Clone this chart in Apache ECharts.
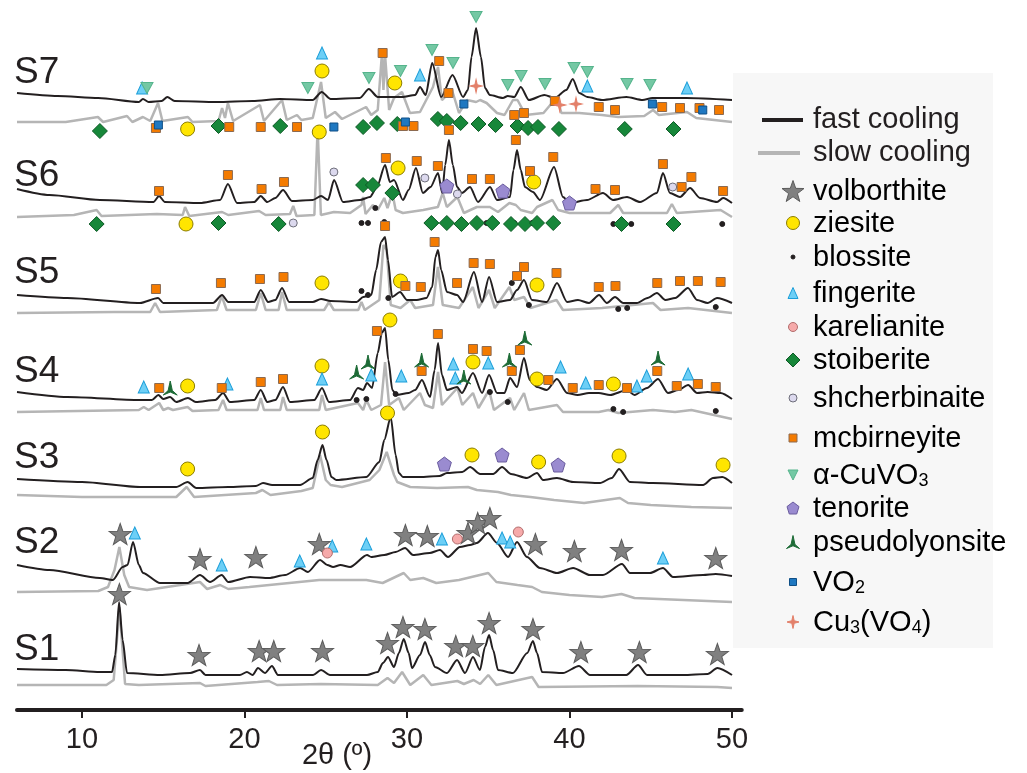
<!DOCTYPE html>
<html>
<head>
<meta charset="utf-8">
<script src="https://cdn.jsdelivr.net/npm/echarts@6/dist/echarts.min.js"></script>
<style>
html, body { margin: 0; padding: 0; background: #fff; }
#xrd { width: 1027px; height: 773px; }
</style>
</head>
<body>
<div id="xrd"></div>
<script>
/* XRD patterns, 2θ in degrees. The second value is the stacked position of
   the trace (0 = top of plot, grows downward). */

// S7
let S7_fast = [[6.0,93],[8.5,96],[11.0,98],[13.5,102],[13.75,99],[14.1,102],[14.9,101],[15.25,97],[15.7,101],[18.3,102],[20.5,101],[22.2,99],[24.2,100],[24.75,92],[25.3,99],[27.1,98],[27.65,89],[28.2,97],[29.7,97],[30.5,95],[30.8,87],[31.15,95],[31.55,63],[32.1,97],[32.8,75],[33.45,97],[33.75,90],[33.97,57],[34.25,28],[34.55,57],[34.8,88],[35.1,95],[35.9,98],[36.2,96],[36.6,97],[37.0,87],[37.5,100],[38.45,95],[39.1,98],[39.8,90],[40.2,79],[40.6,93],[41.1,97],[42.0,100],[43.5,97],[44.5,100],[45.1,98],[47.2,98],[50.0,100]];
let S7_slow = [[6.0,122],[9.0,122],[10.98,117],[11.3,122],[12.77,116],[13.1,122],[13.75,117],[14.2,121],[14.68,103],[14.95,121],[16.52,117],[16.8,122],[18.4,121],[18.62,108],[18.8,118],[18.98,103],[19.3,121],[20.95,105],[21.2,121],[22.31,100],[22.6,120],[23.23,115],[23.5,120],[24.2,118],[24.71,82],[25.0,118],[25.57,112],[26.0,119],[27.48,107],[27.8,115],[28.2,110],[28.46,53],[28.55,90],[28.65,55],[28.9,110],[29.2,98],[29.69,92],[30.18,113],[30.8,112],[31.6,87],[31.91,67],[32.15,100],[32.77,90],[33.2,113],[33.7,100],[34.25,102],[34.5,100],[34.9,103],[35.54,113],[36.0,115],[36.52,100],[36.8,100],[37.3,115],[38.4,113],[39.23,97],[39.5,113],[40.6,113],[42.0,115],[43.0,117],[44.6,116],[45.14,110],[45.5,115],[47.23,112],[47.8,118],[50.0,122]];

// S6
let S6_fast = [[6.0,189],[8.0,195],[11.1,200],[14.4,202],[14.74,196],[15.1,202],[17.26,203],[18.5,200],[18.98,184],[19.54,203],[20.6,202],[21.0,196],[21.4,202],[21.9,198],[22.37,190],[22.92,201],[24.2,200],[24.71,196],[25.14,200],[25.51,180],[26.06,202],[27.11,200],[27.72,197],[28.15,187],[28.65,165],[28.95,182],[29.2,180],[29.75,200],[30.1,190],[30.55,168],[30.98,193],[31.45,187],[31.91,173],[32.17,193],[32.35,165],[32.58,140],[32.82,165],[33.08,187],[33.38,193],[33.88,187],[34.37,202],[35.11,187],[35.54,200],[36.34,197],[36.55,170],[36.77,150],[37.0,170],[37.26,187],[37.75,192],[38.18,200],[39.05,167],[39.6,197],[40.03,203],[41.08,200],[42.06,193],[42.68,200],[43.54,197],[44.34,202],[45.38,193],[45.75,173],[46.18,193],[46.8,197],[47.42,188],[48.03,198],[49.08,202],[49.45,198],[50.0,203]];
let S6_slow = [[6.0,217],[9.5,215],[10.9,210],[11.2,216],[14.6,214],[16.2,215],[16.34,207],[16.6,216],[18.62,212],[19.0,215],[20.9,211],[21.3,215],[22.8,214],[23.0,206],[23.2,216],[24.3,215],[24.5,128],[24.7,215],[25.5,212],[26.5,213],[27.2,205],[27.3,197],[27.45,214],[27.9,205],[28.2,210],[28.6,198],[28.8,208],[29.1,193],[29.3,210],[29.75,213],[31.0,210],[31.9,207],[32.2,193],[32.45,207],[33.1,197],[33.5,213],[34.3,207],[35.1,207],[35.6,212],[36.3,203],[36.7,205],[37.0,210],[37.7,213],[38.0,207],[38.95,200],[39.3,210],[40.0,213],[42.5,213],[43.0,205],[43.3,213],[46.0,213],[46.3,204],[46.6,213],[49.3,210],[50.0,217]];

// S5
let S5_fast = [[6.0,295],[9.1,298],[13.57,303],[14.68,298],[15.0,303],[18.06,303],[18.62,295],[19.0,302],[20.6,302],[21.0,290],[21.45,302],[21.9,300],[22.31,288],[22.75,302],[24.2,302],[24.71,299],[25.3,301],[26.9,302],[27.3,297],[27.8,295],[28.1,270],[28.4,242],[28.65,237],[28.83,260],[29.08,297],[29.57,292],[30.0,300],[30.6,300],[31.2,298],[31.55,287],[31.75,257],[31.91,250],[32.1,270],[32.46,292],[33.08,295],[33.45,302],[34.12,272],[34.62,302],[35.05,277],[35.54,302],[36.34,300],[36.77,290],[37.2,280],[37.69,300],[38.6,302],[39.23,283],[39.85,302],[40.52,300],[41.2,303],[41.82,295],[42.3,303],[42.8,297],[43.3,303],[44.15,303],[44.8,298],[45.38,293],[45.9,300],[46.5,298],[47.29,288],[47.85,300],[48.5,303],[49.08,298],[50.0,303]];
let S5_slow = [[6.0,313],[12.0,312],[14.2,312],[14.5,303],[14.8,312],[18.3,310],[18.6,296],[18.9,310],[20.7,310],[21.0,293],[21.3,310],[22.1,310],[22.31,292],[22.6,310],[24.9,310],[25.2,302],[25.5,310],[27.0,310],[27.2,302],[27.4,310],[28.3,300],[28.55,245],[28.75,250],[29.0,305],[29.6,308],[30.2,300],[30.5,308],[31.6,305],[31.9,267],[32.2,305],[33.2,308],[34.05,287],[34.4,308],[35.05,290],[35.4,308],[36.3,287],[36.6,300],[37.2,297],[37.6,308],[39.2,300],[39.6,310],[42.0,308],[45.14,303],[45.6,310],[47.3,308],[50.0,313]];

// S4
let S4_fast = [[6.0,392],[9.1,397],[13.57,400],[14.3,400],[14.7,395],[15.0,399],[15.42,397],[15.8,402],[16.52,398],[17.0,402],[18.2,400],[18.68,393],[19.1,402],[20.6,400],[21.0,390],[21.4,402],[21.9,400],[22.37,387],[22.8,402],[24.3,400],[24.77,388],[25.2,402],[26.5,400],[26.98,388],[27.3,390],[27.54,383],[27.85,388],[28.2,353],[28.45,333],[28.65,328],[28.85,360],[29.1,390],[29.34,395],[30.1,393],[30.5,390],[30.92,380],[31.42,397],[31.7,370],[31.91,343],[32.15,375],[32.46,390],[33.08,387],[33.38,393],[34.06,373],[34.62,393],[35.05,375],[35.54,393],[36.0,393],[36.34,378],[36.77,387],[37.2,358],[37.55,380],[38.0,387],[38.6,390],[39.23,379],[39.85,393],[40.5,395],[41.2,393],[41.8,393],[42.5,395],[43.54,390],[44.0,395],[44.77,388],[45.45,379],[46.06,393],[46.7,390],[47.3,385],[47.85,393],[48.5,392],[49.3,393],[50.0,399]];
let S4_slow = [[6.0,412],[13.5,410],[13.8,407],[14.1,410],[14.75,403],[15.0,410],[15.3,408],[15.6,410],[16.5,407],[16.8,411],[18.4,410],[18.68,400],[18.9,410],[20.8,410],[21.0,398],[21.2,410],[22.2,410],[22.37,397],[22.6,410],[24.6,410],[24.77,395],[25.0,410],[26.98,403],[27.3,410],[27.5,400],[27.8,410],[28.4,405],[28.65,362],[28.9,405],[29.5,398],[29.8,410],[30.8,393],[31.1,405],[31.6,408],[31.91,372],[32.15,405],[33.1,388],[33.4,405],[34.06,393],[34.4,408],[35.05,390],[35.35,410],[36.34,398],[36.6,410],[37.2,393],[37.5,410],[39.23,405],[39.6,412],[41.8,412],[42.4,410],[43.0,413],[45.14,410],[46.5,412],[47.5,410],[50.0,419]];

// S3
let S3_fast = [[6.0,479],[10.0,482],[13.57,487],[15.8,487],[16.5,482],[17.03,488],[19.0,487],[20.7,486],[21.14,483],[21.7,485],[23.42,485],[24.2,478],[24.5,460],[24.8,445],[25.05,460],[25.35,477],[25.65,480],[27.5,477],[28.3,462],[28.6,440],[29.0,417],[29.3,455],[29.5,473],[29.75,477],[30.8,477],[32.0,476],[32.46,473],[33.4,472],[33.88,467],[34.5,474],[35.3,474],[35.85,467],[36.4,474],[37.38,478],[38.0,473],[38.37,480],[39.23,478],[40.22,482],[41.88,483],[42.6,478],[43.05,469],[43.72,482],[45.14,483],[48.22,485],[48.83,478],[49.4,477],[50.0,483]];
let S3_slow = [[6.0,495],[10.0,497],[15.8,497],[16.44,487],[16.9,497],[20.7,493],[21.1,490],[21.6,495],[23.5,491],[24.2,488],[24.65,455],[25.0,480],[25.3,485],[26.0,487],[27.7,480],[28.3,470],[28.75,452],[29.2,475],[29.4,482],[30.2,487],[31.85,488],[33.75,487],[34.3,490],[35.6,492],[36.4,495],[37.6,497],[39.05,500],[40.9,503],[43.1,498],[43.6,503],[45.0,505],[47.5,507],[50.0,508]];

// S2
let S2_fast = [[6.0,565],[8.0,570],[11.1,578],[11.9,580],[12.5,567],[12.8,565],[13.14,542],[13.5,565],[13.75,573],[14.8,583],[16.5,583],[17.26,575],[17.88,582],[18.6,575],[19.0,582],[20.34,577],[21.5,578],[22.5,575],[23.42,568],[23.9,572],[24.65,560],[25.1,565],[25.45,567],[25.9,565],[26.5,567],[27.54,555],[27.8,557],[28.6,555],[29.3,552],[29.88,548],[30.37,555],[31.4,553],[32.03,550],[32.52,557],[33.26,547],[33.88,545],[34.3,543],[34.98,533],[35.54,543],[36.22,557],[36.77,542],[37.38,557],[38.18,568],[39.23,573],[40.22,568],[41.26,575],[42.06,575],[43.23,564],[43.72,573],[44.95,573],[45.75,568],[46.37,577],[48.22,575],[49.0,574],[50.0,576]];
let S2_slow = [[6.0,592],[11.0,591],[11.6,587],[12.0,570],[12.3,547],[12.6,575],[12.9,587],[14.0,590],[17.26,582],[17.7,589],[18.5,585],[19.0,589],[20.3,587],[24.6,580],[27.5,580],[28.5,583],[29.8,573],[30.2,580],[31.0,578],[31.8,583],[33.2,580],[35.0,573],[35.5,582],[36.8,585],[37.7,587],[38.3,592],[40.0,595],[42.0,597],[43.2,594],[44.0,598],[50.0,602]];

// S1
let S1_fast = [[6.0,669],[9.0,670],[11.1,672],[11.85,672],[12.05,655],[12.28,602],[12.5,640],[12.77,673],[14.8,675],[16.65,673],[17.26,670],[17.6,675],[19.72,675],[20.15,672],[20.5,675],[20.83,668],[21.26,673],[21.69,666],[22.06,675],[24.22,675],[24.71,670],[25.26,675],[27.54,675],[28.2,672],[28.52,663],[28.83,657],[29.2,667],[29.5,653],[29.8,639],[30.1,653],[30.31,668],[30.8,655],[31.11,642],[31.4,655],[31.72,667],[32.46,673],[33.08,660],[33.57,673],[34.06,657],[34.49,670],[34.8,647],[35.05,635],[35.3,650],[35.6,670],[36.52,673],[37.4,653],[37.75,641],[38.0,653],[38.31,672],[39.6,673],[40.58,666],[41.26,675],[43.5,675],[44.22,665],[44.77,675],[47.0,675],[48.5,674],[49.1,668],[50.0,675]];
let S1_slow = [[6.0,685],[11.5,685],[11.95,680],[12.15,640],[12.3,607],[12.45,640],[12.65,684],[13.5,685],[17.26,683],[17.6,686],[20.8,682],[21.5,681],[22.0,685],[24.7,684],[28.2,685],[28.8,678],[29.2,683],[29.7,672],[30.2,685],[31.0,675],[31.5,685],[33.1,681],[33.5,684],[34.1,680],[34.5,684],[35.0,675],[35.5,685],[37.7,677],[38.1,687],[44.2,686],[49.1,687],[50.0,688]];

/* phase markers [2θ, position] */
let volborthite = [[12.35,534],[17.26,559],[20.7,557],[24.6,544],[29.9,535],[31.25,536],[33.75,533],[34.35,523],[35.1,518],[37.9,544],[40.3,551],[43.2,550],[49.0,558],
  [12.3,594],[17.2,655],[20.9,651],[21.8,651],[24.8,651],[28.8,643],[29.75,627],[31.1,629],[33.0,646],[34.05,646],[35.05,623],[37.75,629],[40.7,652],[44.3,652],[49.1,654]];
let ziesite = [[24.77,71],[29.25,83],[16.5,129],[24.6,132],[29.45,168],[37.8,182],[16.4,224],
  [24.77,283],[29.6,281],[38.0,285],[16.5,386],[24.77,366],[28.95,320],[34.06,362],[38.0,379],[42.7,384],
  [16.5,469],[24.8,432],[28.8,413],[34.0,455],[38.1,462],[43.05,456],[49.45,465]];
let blossite = [[27.2,223],[27.6,223],[28.6,222],[28.05,208],[34.9,223],[36.6,223],[37.7,223],[42.7,224],[43.8,224],[49.4,224],
  [27.2,291],[27.6,295],[28.85,298],[36.45,283],[37.5,305],[43.0,309],[43.55,308],[49.0,307],
  [26.9,400],[27.5,399],[29.3,394],[35.1,392],[36.2,402],[42.7,409],[43.3,412],[49.0,411]];
let fingerite = [[13.7,88],[24.77,53],[30.8,75],[41.1,86],[47.23,88],
  [13.8,387],[18.95,384],[24.77,379],[27.8,375],[29.65,376],[32.85,364],[32.97,378],[35.0,363],[39.45,367],[41.0,383],[44.15,386],[44.75,376],[47.3,374],
  [13.25,533],[18.6,565],[23.4,561],[25.4,546],[27.5,544],[32.15,539],[35.85,538],[36.35,542],[45.75,558]];
let karelianite = [[25.1,553],[33.1,539],[36.85,532]];
let stoiberite = [[11.1,131],[18.4,126],[22.2,126],[27.3,127],[28.15,123],[29.4,124],[31.9,119],[32.45,121],[33.3,123],[34.4,124],[35.45,125],[36.8,126],[37.45,128],[38.06,127],[39.35,129],[43.4,129],[46.4,129],
  [27.3,185],[27.9,185],[29.1,193],
  [10.9,224],[18.4,223],[22.1,224],[31.5,223],[32.45,223],[33.35,224],[34.3,223],[35.25,223],[36.4,224],[37.26,224],[38.0,223],[39.0,223],[43.2,224],[46.4,224]];
let shcherbinaite = [[25.5,172],[31.1,178],[33.1,194],[46.35,187],[23.0,223]];
let mcbirneyite = [[28.5,53],[31.98,61],[32.55,93],[39.1,101],[41.8,107],[42.8,110],[45.7,107],[46.8,108],[48.0,108],[49.2,110],
  [14.55,128],[19.06,127],[21.0,127],[23.23,127],[29.75,126],[30.4,126],[36.6,115],[37.2,113],
  [14.74,191],[18.98,175],[21.05,189],[22.43,182],[28.7,158],[30.6,161],[31.9,166],[32.58,130],[34.0,179],[35.1,179],[36.7,140],[37.57,171],[39.0,157],[41.6,189],[42.8,190],[45.75,164],[46.9,187],[47.5,177],[49.45,191],
  [14.55,289],[18.55,283],[20.95,279],[22.4,277],[28.65,226],[31.7,242],[29.9,286],[30.85,287],[33.08,283],[34.1,263],[35.1,264],[36.77,276],[37.2,267],[39.2,273],[41.8,287],[42.83,286],[45.4,283],[46.8,281],[47.9,281],[49.3,282],
  [14.75,388],[18.6,388],[21.0,382],[22.37,379],[28.15,331],[31.9,334],[30.9,371],[34.06,349],[34.9,351],[36.45,371],[36.95,350],[38.7,380],[40.2,388],[41.8,385],[43.54,388],[45.4,371],[46.6,386],[47.9,384],[49.0,387]];
let cuvo3 = [[14.0,88],[23.9,88],[27.66,78],[29.6,71],[31.54,50],[32.83,63],[34.25,17],[36.2,85],[37.02,76],[38.49,84],[40.28,68],[41.1,72],[43.54,84],[44.95,85]];
let tenorite = [[32.45,186],[35.9,191],[40.0,203],[32.3,464],[35.85,455],[39.3,465]];
let pseudolyonsite = [[15.43,388],[26.9,372],[27.6,362],[30.9,360],[33.5,377],[36.3,360],[37.25,338],[45.45,358]];
let vo2 = [[14.7,125],[25.5,127],[29.9,122],[33.5,104],[45.1,104],[48.2,110]];
let cu3vo4 = [[34.25,86],[39.4,105],[40.4,104]];

let samples = ["S7", "S6", "S5", "S4", "S3", "S2", "S1"];
let x_ticks = [10, 20, 30, 40, 50];

/* ---- styling ---- */
let INK = "#231f20";
let FONT = "Liberation Sans, Arial, Helvetica, sans-serif";
// marker outlines as polygons (unit box -10..10)
let SHAPES = {
	star: [[0,-10],[2.35,-3.24],[9.51,-3.09],[3.8,1.24],[5.88,8.09],[0,4],[-5.88,8.09],[-3.8,1.24],[-9.51,-3.09],[-2.35,-3.24]],
	square: [[-10,-10],[10,-10],[10,10],[-10,10]],
	diamond: [[0,-10],[10,0],[0,10],[-10,0]],
	triUp: [[0,-10],[10,8],[-10,8]],
	triDown: [[-10,-8],[10,-8],[0,10]],
	pentagon: [[0,-10],[9.51,-3.09],[5.88,8.09],[-5.88,8.09],[-9.51,-3.09]],
	arrow: [[0,-10],[3,3],[10,9],[0,5],[-10,9],[-3,3]],
	spark: [[0,-10],[2,-2],[10,0],[2,2],[0,10],[-2,2],[-10,0],[-2,-2]],
};
function symbolOf(shape) {
	if (shape === "circle") return "circle";
	return "path://M" + SHAPES[shape].map(function (p) { return p[0] + "," + p[1]; }).join("L") + "Z";
}
// fit polygon into a w x h box centred on (cx, cy)
function fitPoints(shape, cx, cy, w, h) {
	let pts = SHAPES[shape];
	let xs = pts.map(function (p) { return p[0]; });
	let ys = pts.map(function (p) { return p[1]; });
	let x0 = Math.min.apply(null, xs), x1 = Math.max.apply(null, xs);
	let y0 = Math.min.apply(null, ys), y1 = Math.max.apply(null, ys);
	return pts.map(function (p) {
		return [cx - w / 2 + (p[0] - x0) / (x1 - x0) * w, cy - h / 2 + (p[1] - y0) / (y1 - y0) * h];
	});
}
// name, data, rich legend label, look
let phases = [
	["volborthite", volborthite, "{m|volborthite}", { shape: "star", size: [22, 21], lsize: [22, 21], fill: "#808080", stroke: "#5c5c5c" }],
	["ziesite", ziesite, "{m|ziesite}", { shape: "circle", size: 14, lsize: 13, fill: "#ffe500", stroke: "#8c7d00" }],
	["blossite", blossite, "{m|blossite}", { shape: "circle", size: 5, lsize: 4, fill: INK, stroke: INK }],
	["fingerite", fingerite, "{m|fingerite}", { shape: "triUp", size: [11, 12], lsize: [10, 11], fill: "#6dcff6", stroke: "#1b9ed9" }],
	["karelianite", karelianite, "{m|karelianite}", { shape: "circle", size: 10, lsize: 9, fill: "#f6aaaa", stroke: "#b26d6d" }],
	["stoiberite", stoiberite, "{m|stoiberite}", { shape: "diamond", size: 15, lsize: 14, fill: "#17873a", stroke: "#0e5a26" }],
	["shcherbinaite", shcherbinaite, "{m|shcherbinaite}", { shape: "circle", size: 8, lsize: 8, fill: "#dcd9ee", stroke: "#6e6e7a" }],
	["mcbirneyite", mcbirneyite, "{m|mcbirneyite}", { shape: "square", size: 9, lsize: 8, fill: "#f47b00", stroke: "#8c6a50" }],
	["α-CuVO3", cuvo3, "{m|α-CuVO}{s|3}", { shape: "triDown", size: [12, 11], lsize: [10, 10], fill: "#74c8a4", stroke: "#55b48c" }],
	["tenorite", tenorite, "{m|tenorite}", { shape: "pentagon", size: 14, lsize: 12, fill: "#9a8bd0", stroke: "#6a5c9e" }],
	["pseudolyonsite", pseudolyonsite, "{m|pseudolyonsite}", { shape: "arrow", size: [14, 14], lsize: [13, 13], fill: "#1d6b36", stroke: "#1d6b36" }],
	["VO2", vo2, "{m|VO}{s|2}", { shape: "square", size: 8, lsize: 7, fill: "#1f78c1", stroke: "#0f4f86" }],
	["Cu3(VO4)", cu3vo4, "{m|Cu}{s|3}{m|(VO}{s|4}{m|)}", { shape: "spark", size: [12, 13], lsize: [12, 13], fill: "#e3806a", stroke: "#e3806a" }],
];

let traces = [
	[S7_fast, S7_slow], [S6_fast, S6_slow], [S5_fast, S5_slow], [S4_fast, S4_slow],
	[S3_fast, S3_slow], [S2_fast, S2_slow], [S1_fast, S1_slow],
];

let series = [];
traces.forEach(function (pair, i) {
	series.push({
		name: samples[i] + " slow cooling",
		type: "line",
		data: pair[1],
		symbol: "none",
		lineStyle: { color: "#b5b5b5", width: 2.5 },
		z: 2,
	});
	series.push({
		name: samples[i] + " fast cooling",
		type: "line",
		data: pair[0],
		symbol: "none",
		smooth: 0.25,
		smoothMonotone: "x",
		lineStyle: { color: INK, width: 2 },
		z: 3,
	});
});
phases.forEach(function (p) {
	let look = p[3];
	series.push({
		name: p[0],
		type: "scatter",
		data: p[1],
		symbol: symbolOf(look.shape),
		symbolSize: look.size,
		itemStyle: { color: look.fill, borderColor: look.stroke, borderWidth: 1, opacity: 1 },
		z: 5,
	});
});

/* ---- legend + labels drawn as graphic ---- */
let rich = {
	m: { fontSize: 29, fontFamily: FONT, color: INK, verticalAlign: "bottom" },
	s: { fontSize: 18, fontFamily: FONT, color: INK, verticalAlign: "bottom" },
};
let graphics = [
	{ type: "rect", shape: { x: 733, y: 73, width: 260, height: 575 }, style: { fill: "#f7f7f7" }, z: 0 },
	{ type: "line", shape: { x1: 762, y1: 120, x2: 803, y2: 120 }, style: { stroke: INK, lineWidth: 4 }, z: 1 },
	{ type: "text", x: 813, y: 120, style: { text: "fast cooling", fontSize: 29, fontFamily: FONT, fill: INK, verticalAlign: "middle" }, z: 1 },
	{ type: "line", shape: { x1: 758, y1: 153, x2: 800, y2: 153 }, style: { stroke: "#b5b5b5", lineWidth: 4 }, z: 1 },
	{ type: "text", x: 813, y: 153, style: { text: "slow cooling", fontSize: 29, fontFamily: FONT, fill: INK, verticalAlign: "middle" }, z: 1 },
];
let legendRowsY = [191, 223, 257, 293, 327, 360, 398, 438, 475, 508, 542, 582, 622];
phases.forEach(function (p, i) {
	let look = p[3];
	let cy = legendRowsY[i];
	let cx = 793;
	let w = Array.isArray(look.lsize) ? look.lsize[0] : look.lsize;
	let h = Array.isArray(look.lsize) ? look.lsize[1] : look.lsize;
	if (look.shape === "circle") {
		graphics.push({ type: "circle", shape: { cx: cx, cy: cy, r: w / 2 }, style: { fill: look.fill, stroke: look.stroke, lineWidth: 1 }, z: 1 });
	} else {
		graphics.push({
			type: "polygon",
			shape: { points: fitPoints(look.shape, cx, cy, w, h) },
			style: { fill: look.fill, stroke: look.stroke, lineWidth: 1 },
			z: 1,
		});
	}
	graphics.push({ type: "text", x: 813, y: cy + 15, style: { text: p[2], rich: rich, verticalAlign: "bottom" }, z: 1 });
});
let sampleLabelY = [71, 174, 271, 370, 456, 541, 648];
samples.forEach(function (s, i) {
	graphics.push({ type: "text", x: 14, y: sampleLabelY[i] + 2, style: { text: s, fontSize: 37, fontFamily: FONT, fill: INK, verticalAlign: "middle" }, z: 1 });
});
graphics.push({ type: "text", x: 337, y: 756, style: { text: "2θ (º)", fontSize: 29, fontFamily: FONT, fill: INK, align: "center", verticalAlign: "middle" }, z: 1 });

let xrd = echarts.init(document.getElementById("xrd"));
let xrd_option = {
	animation: false,
	backgroundColor: "#ffffff",
	grid: { left: 17, right: 285.25, top: 0, bottom: 63, outerBoundsMode: "none" },
	xAxis: {
		type: "value",
		min: 6,
		max: 50.6,
		axisLine: { onZero: false, lineStyle: { color: INK, width: 4 } },
		axisTick: { customValues: x_ticks, length: 8, lineStyle: { color: INK, width: 2 } },
		axisLabel: { customValues: x_ticks, fontSize: 29, fontFamily: FONT, color: INK, margin: 15 },
		splitLine: { show: false },
	},
	yAxis: {
		type: "value",
		inverse: true, // offsets measured from the top of the figure
		min: 0,
		max: 710,
		show: false,
		splitLine: { show: false },
	},
	graphic: { elements: graphics },
	series: series,
};
xrd.setOption(xrd_option);
</script>
</body>
</html>
